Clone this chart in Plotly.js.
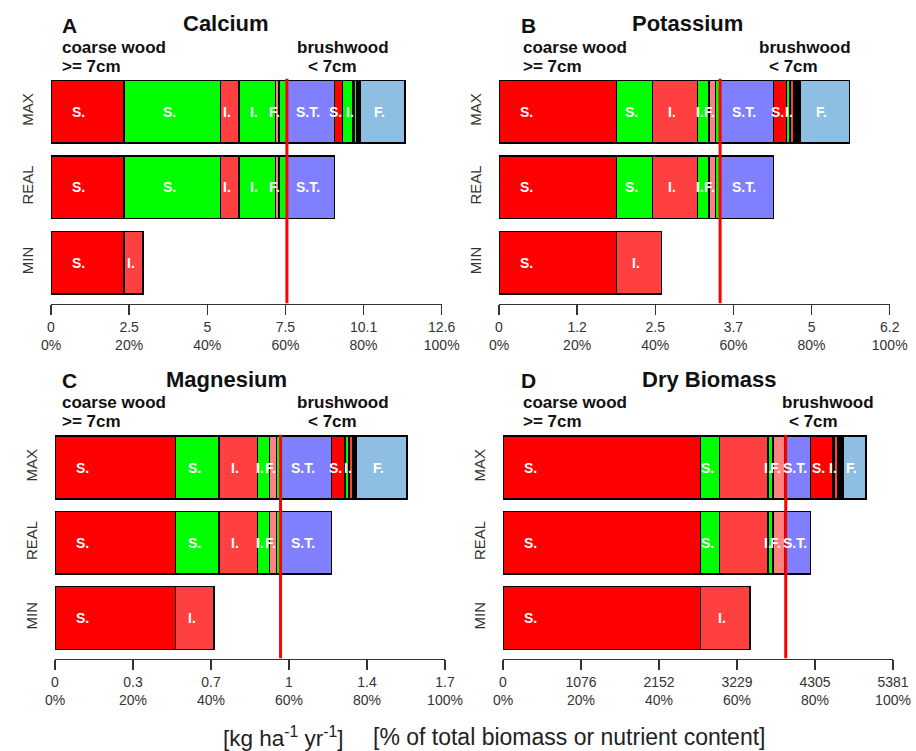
<!DOCTYPE html>
<html>
<head>
<meta charset="utf-8">
<script src="https://cdn.plot.ly/plotly-3.0.1.min.js"></script>
<style>html,body{margin:0;padding:0;background:#fff;}#chart{width:916px;height:751px;}</style>
</head>
<body>
<div id="chart"></div>
<script>
// ---------------- DATA ----------------
const panelTitles = ["Calcium", "Potassium", "Magnesium", "Dry Biomass"];
const panelLetters = ["A", "B", "C", "D"];
const rowNames = ["MIN", "REAL", "MAX"];
// segment order: coarse S.(red), S.(green), I.(red), I.(green), F.(red), F.(green), S.T., brush S.(red), S.(green), I.(red), I.(green), dark, F.(blue)
const segLabels = ["S.", "S.", "I.", "I.", "F.", "", "S.T.", "S.", "", "I.", "", "", "F."];
const biomassLabels = ["S.", "S.", "", "I.", "F.", "", "S.T.", "S.", "", "I.", "", "", "F."];

const calciumMax  = [2.36, 3.11, 0.60, 1.18, 0.12, 0.25, 1.54, 0.26, 0.32, 0.04, 0.10, 0.12, 1.44];
const calciumReal = [2.36, 3.11, 0.60, 1.18, 0.12, 0.25, 1.54, null, null, null, null, null, null];
const calciumMin  = [2.36, null, 0.61, null, null, null, null, null, null, null, null, null, null];

const potassiumMax  = [1.87, 0.57, 0.72, 0.18, 0.11, 0.07, 0.85, 0.21, 0.05, 0.07, null, 0.09, 0.79];
const potassiumReal = [1.87, 0.57, 0.72, 0.18, 0.11, 0.07, 0.85, null, null, null, null, null, null];
const potassiumMin  = [1.87, null, 0.72, null, null, null, null, null, null, null, null, null, null];

const magnesiumMax  = [0.529, 0.190, 0.168, 0.053, 0.032, 0.017, 0.224, 0.058, 0.019, 0.015, null, 0.017, 0.222];
const magnesiumReal = [0.529, 0.190, 0.168, 0.053, 0.032, 0.017, 0.224, null, null, null, null, null, null];
const magnesiumMin  = [0.529, null, 0.169, null, null, null, null, null, null, null, null, null, null];

const biomassMax  = [2728, 262, 667, 69, 161, 14, 340, 312, 15, 50, null, 70, 320];
const biomassReal = [2728, 262, 667, 69, 161, 14, 340, null, null, null, null, null, null];
const biomassMin  = [2728, null, 680, null, null, null, null, null, null, null, null, null, null];

const axisTotals = [12.62, 6.22, 1.71, 5381];
const calciumTicks   = ["0", "2.5", "5", "7.5", "10.1", "12.6"];
const potassiumTicks = ["0", "1.2", "2.5", "3.7", "5", "6.2"];
const magnesiumTicks = ["0", "0.3", "0.7", "1", "1.4", "1.7"];
const biomassTicks   = ["0", "1076", "2152", "3229", "4305", "5381"];
const pctTicks = ["0%", "20%", "40%", "60%", "80%", "100%"];
const pctFractions = [0, 0.2, 0.4, 0.6, 0.8, 1.0];

// ---------------- STYLE ----------------
const segColors = ["#FF0000", "#00FF00", "#FF4040", "#00FF00", "#FF8080", "#00FF00", "#8080FF",
                   "#FF0000", "#00FF00", "#FF4040", "#00FF00", "#000000", "#8EBFE3"];
const W = 916, H = 751;
const px = v => v / W, py = v => 1 - v / H;
const geom = [
  {x: [51, 441.7], y: [74, 303.5], letter: 60, title: 226, coarse: 60, brush: 343, small: 332.3, ty: 0},
  {x: [499, 889.7], y: [74, 303.5], letter: 519, title: 687.5, coarse: 521.3, brush: 804.7, small: 793.3, ty: 0},
  {x: [55, 445], y: [430, 658.5], letter: 60, title: 226.7, coarse: 60, brush: 343, small: 332.3, ty: 355},
  {x: [503, 893], y: [430, 658.5], letter: 519, title: 709.7, coarse: 521.3, brush: 828.2, small: 813.3, ty: 355}
];
const panelData = [
  {max: calciumMax, real: calciumReal, min: calciumMin, ticks: calciumTicks, labels: segLabels},
  {max: potassiumMax, real: potassiumReal, min: potassiumMin, ticks: potassiumTicks, labels: segLabels},
  {max: magnesiumMax, real: magnesiumReal, min: magnesiumMin, ticks: magnesiumTicks, labels: segLabels},
  {max: biomassMax, real: biomassReal, min: biomassMin, ticks: biomassTicks, labels: biomassLabels}
];

const FONT = "Liberation Sans, Arial, sans-serif";
const BARW = 0.834;
const traces = [], annotations = [], shapes = [];
const layout = {
  width: W, height: H, margin: {l: 0, r: 0, t: 0, b: 0},
  paper_bgcolor: "#fff", plot_bgcolor: "rgba(0,0,0,0)",
  barmode: "stack", showlegend: false, hovermode: false,
  font: {family: FONT, color: "#222"}
};

panelData.forEach((pd, p) => {
  const sfx = p === 0 ? "" : String(p + 1);
  const g = geom[p];
  const total = axisTotals[p];
  const rows = [pd.min, pd.real, pd.max];
  for (let s = 0; s < segColors.length; s++) {
    traces.push({
      type: "bar", orientation: "h",
      x: rows.map(r => r[s]), y: [0, 1, 2],
      width: BARW,
      marker: {color: segColors[s], line: {color: "#000", width: 1.5}},
      xaxis: "x" + sfx, yaxis: "y" + sfx, hoverinfo: "skip"
    });
  }
  // segment labels
  rows.forEach((r, ri) => {
    const lab = ri === 0 ? segLabels : pd.labels;
    let start = 0;
    r.forEach((v, s) => {
      if (v == null) return;
      if (lab[s]) {
        const xc = s === 0 ? start + Math.min(v / 2, 0.07 * total) : start + v / 2;
        annotations.push({
          xref: "x" + sfx, yref: "y" + sfx, x: xc, y: ri, xshift: s === 0 ? 0 : -3,
          text: "<b>" + lab[s] + "</b>", showarrow: false,
          font: {family: FONT, size: 14, color: "#fff"}, xanchor: "center", yanchor: "middle"
        });
      }
      start += v;
    });
  });
  // red line at the coarse-wood boundary
  const coarse = pd.max.slice(0, 6).reduce((a, b) => a + (b || 0), 0);
  shapes.push({
    type: "line", xref: "x" + sfx, yref: "y" + sfx, x0: coarse, x1: coarse,
    y0: -0.54, y1: 2 + BARW / 2 + 0.02, line: {color: "#FF0000", width: 3}, layer: "above"
  });

  layout["xaxis" + sfx] = {
    domain: [px(g.x[0]), px(g.x[1])], anchor: "y" + sfx,
    range: [0, total], showgrid: false, zeroline: false,
    showline: true, linecolor: "#333", linewidth: 1.5,
    ticks: "outside", ticklen: 10, tickwidth: 1.5, tickcolor: "#333",
    tickvals: pctFractions.map(f => f * total),
    ticktext: pd.ticks.map((t, i) => t + "<br>" + pctTicks[i]),
    tickfont: {family: FONT, size: 14, color: "#333"}, fixedrange: true
  };
  layout["yaxis" + sfx] = {
    domain: [py(g.y[1]), py(g.y[0])], anchor: "x" + sfx,
    range: [-0.54, 2.5], showgrid: false, zeroline: false, showline: false,
    tickvals: [0, 1, 2], ticktext: rowNames, tickangle: -90, ticks: "",
    ticklabelstandoff: 14,
    tickfont: {family: FONT, size: 15, color: "#333"}, fixedrange: true
  };

  // panel texts
  const t = g.ty;
  annotations.push({xref: "paper", yref: "paper", x: px(g.letter), y: py(25.8 + t), xanchor: "left", yanchor: "middle",
    text: "<b>" + panelLetters[p] + "</b>", showarrow: false, font: {family: FONT, size: 21, color: "#111"}});
  annotations.push({xref: "paper", yref: "paper", x: px(g.title), y: py(24 + t), xanchor: "center", yanchor: "middle",
    text: "<b>" + panelTitles[p] + "</b>", showarrow: false, font: {family: FONT, size: 22, color: "#111"}});
  annotations.push({xref: "paper", yref: "paper", x: px(g.coarse), y: py(47 + t), xanchor: "left", yanchor: "middle",
    text: "<b>coarse wood</b>", showarrow: false, font: {family: FONT, size: 17, color: "#111"}});
  annotations.push({xref: "paper", yref: "paper", x: px(g.coarse), y: py(67 + t), xanchor: "left", yanchor: "middle",
    text: "<b>&gt;= 7cm</b>", showarrow: false, font: {family: FONT, size: 17, color: "#111"}});
  annotations.push({xref: "paper", yref: "paper", x: px(g.brush), y: py(47 + t), xanchor: "center", yanchor: "middle",
    text: "<b>brushwood</b>", showarrow: false, font: {family: FONT, size: 17, color: "#111"}});
  annotations.push({xref: "paper", yref: "paper", x: px(g.small), y: py(67 + t), xanchor: "center", yanchor: "middle",
    text: "<b>&lt; 7cm</b>", showarrow: false, font: {family: FONT, size: 17, color: "#111"}});
});

annotations.push({xref: "paper", yref: "paper", x: px(346), y: py(737), xanchor: "right", yanchor: "middle",
  text: "[kg ha<sup>-1</sup> yr<sup>-1</sup>]", showarrow: false, font: {family: FONT, size: 22.5, color: "#222"}});
annotations.push({xref: "paper", yref: "paper", x: px(371), y: py(737), xanchor: "left", yanchor: "middle",
  text: "[% of total biomass or nutrient content]", showarrow: false, font: {family: FONT, size: 23, color: "#222"}});

layout.annotations = annotations;
layout.shapes = shapes;
Plotly.newPlot("chart", traces, layout, {displayModeBar: false, staticPlot: true});
</script>
</body>
</html>
